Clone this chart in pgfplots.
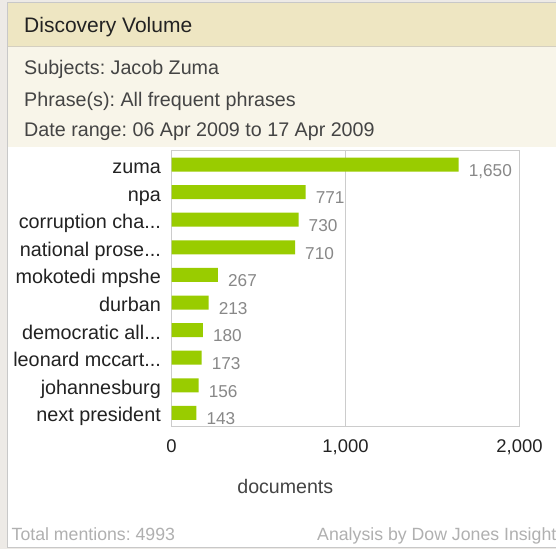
\documentclass[border=0pt]{standalone}
\usepackage{fontspec}
\setmainfont{Liberation Sans}
\usepackage{pgfplots}
\pgfplotsset{compat=1.18}
\frenchspacing

\definecolor{outerbg}{HTML}{EDEAE6}
\definecolor{headbg}{HTML}{EEE6C2}
\definecolor{subbg}{HTML}{F8F5E9}
\definecolor{sepline}{HTML}{D4CFC0}
\definecolor{panelline}{HTML}{C8C8C8}
\definecolor{axisgray}{HTML}{CCCCCC}
\definecolor{bargreen}{HTML}{99CC00}
\definecolor{darktext}{HTML}{222222}
\definecolor{midtext}{HTML}{444444}
\definecolor{valtext}{HTML}{888888}
\definecolor{foottext}{HTML}{B0B0B0}
\newcommand\dd{...}

\begin{document}
\begin{tikzpicture}[x=1bp,y=1bp]
\path[use as bounding box] (0,0) rectangle (556,-549);
\fill[outerbg] (0,0) rectangle (556,-549);
\fill[white] (7,-2.7) rectangle (560,-546.7);
\fill[headbg] (7,-2.7) rectangle (560,-46);
\fill[subbg] (7,-46) rectangle (560,-147);
\draw[sepline] (7,-46) -- (560,-46);
\draw[panelline] (7.3,-2.7) rectangle (560,-546.7);

% header texts
\node[anchor=base west, inner sep=0, text=darktext, font=\fontsize{21bp}{25bp}\selectfont] at (24,-32.3) {Discovery Volume};
\node[anchor=base west, inner sep=0, text=midtext, font=\fontsize{19.7bp}{24bp}\selectfont] at (24,-75) {Subjects: Jacob Zuma};
\node[anchor=base west, inner sep=0, text=midtext, font=\fontsize{19.7bp}{24bp}\selectfont] at (24,-106.5) {Phrase(s): All frequent phrases};
\node[anchor=base west, inner sep=0, text=midtext, font=\fontsize{19.7bp}{24bp}\selectfont] at (24,-137) {Date range: 06 Apr 2009 to 17 Apr 2009};

\begin{axis}[
    at={(171.5bp,-426.7bp)}, anchor=south west,
    scale only axis, width=348bp, height=276bp,
    xbar, bar width=14bp,
    xmin=0, xmax=2000,
    ymin=-0.5, ymax=9.5, y dir=reverse,
    xtick={0,1000,2000},
    ytick={0,1,2,3,4,5,6,7,8,9},
    yticklabels={zuma, npa, corruption cha\dd, national prose\dd, mokotedi mpshe, durban, democratic all\dd, leonard mccart\dd, johannesburg, next president},
    major tick length=0pt,
    axis line style={draw=axisgray, line width=1bp},
    xmajorgrids, grid style={draw=axisgray, line width=1bp},
    /pgf/number format/.cd, 1000 sep={,}, assume math mode=true, /pgfplots/.cd,
    yticklabel style={anchor=base east, inner sep=0pt, xshift=-10.5bp, yshift=-9bp, text=darktext, font=\fontsize{19.8bp}{24bp}\selectfont},
    xticklabel style={anchor=base, inner sep=0pt, yshift=-26bp, text=darktext, font=\fontsize{18.4bp}{22bp}\selectfont},
    nodes near coords, point meta=x,
    every node near coord/.append style={anchor=base west, inner sep=0pt, xshift=10bp, yshift=-11.8bp, text=valtext, font=\fontsize{17.2bp}{21bp}\selectfont},
]
\addplot[fill=bargreen, draw=none] coordinates {
  (1650,0) (771,1) (730,2) (710,3) (267,4)
  (213,5) (180,6) (173,7) (156,8) (143,9)
};
\end{axis}

\node[anchor=base, inner sep=0, text=midtext, font=\fontsize{19.6bp}{24bp}\selectfont] at (285.3,-493.3) {documents};
\node[anchor=base west, inner sep=0, text=foottext, font=\fontsize{17.7bp}{21bp}\selectfont] at (11.5,-540.7) {Total mentions: 4993};
\node[anchor=base east, inner sep=0, text=foottext, font=\fontsize{17.7bp}{21bp}\selectfont] at (556.5,-540.7) {Analysis by Dow Jones Insight};
\end{tikzpicture}
\end{document}
